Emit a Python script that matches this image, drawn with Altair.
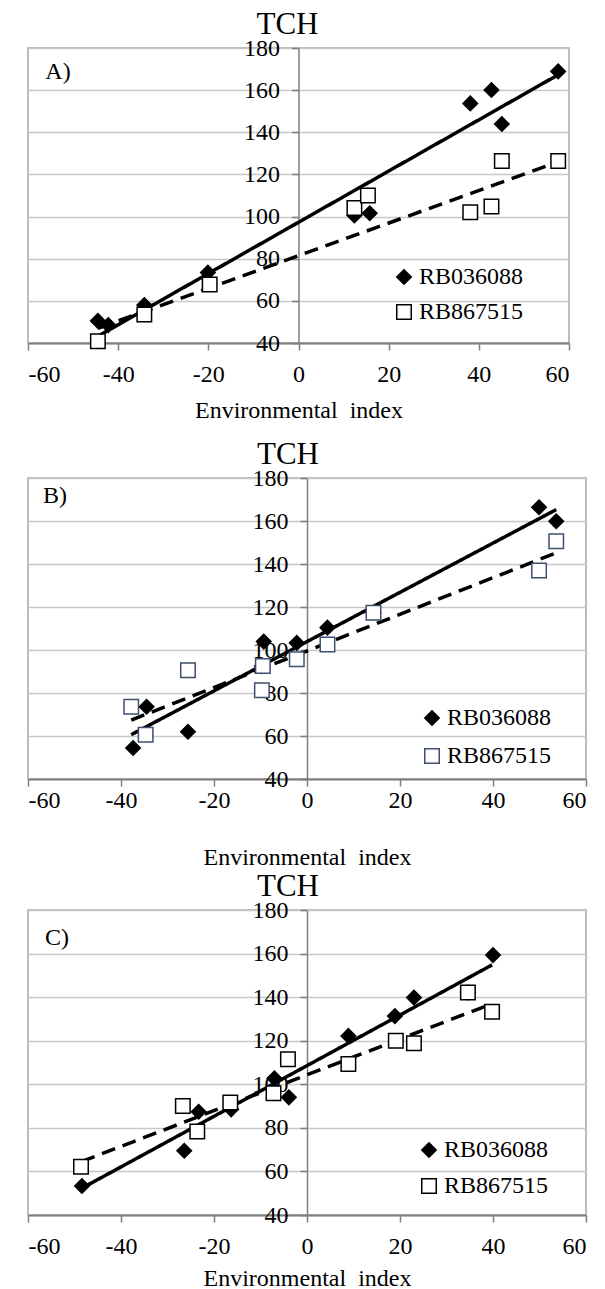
import altair as alt
import pandas as pd

SERIES = ["RB036088", "RB867515"]
X_TICKS = [-60, -40, -20, 0, 20, 40, 60]
Y_TICKS = [40, 60, 80, 100, 120, 140, 160, 180]
FONT = "Liberation Serif"

# ---------- Panel A ----------
a_x_036 = [-44.5, -42.2, -34.2, -20.1, 12.4, 15.8, 38.1, 42.8, 45.1, 57.6]
a_y_036 = [50.5, 48.5, 58.0, 73.4, 100.5, 101.6, 153.7, 160.1, 143.9, 168.9]
a_x_867 = [-44.5, -34.2, -19.7, 12.4, 15.4, 38.1, 42.8, 45.1, 57.6]
a_y_867 = [40.8, 53.5, 67.8, 104.1, 110.0, 102.0, 104.8, 126.4, 126.4]
a_fit_x = [-44.5, 57.6]
a_fit_036 = [43.2, 167.3]
a_fit_867 = [47.0, 126.0]

# ---------- Panel B ----------
b_x_036 = [-37.4, -34.5, -25.6, -9.7, -9.3, -2.2, 4.4, 14.3, 49.9, 53.6]
b_y_036 = [54.4, 73.6, 62.0, 92.5, 103.9, 103.3, 110.4, 117.3, 166.4, 159.9]
b_x_867 = [-37.8, -34.7, -25.6, -9.5, -9.7, -2.2, 4.4, 14.3, 49.9, 53.6]
b_y_867 = [73.6, 60.6, 90.6, 92.6, 81.3, 95.7, 102.6, 117.3, 137.0, 150.6]
b_fit_x = [-37.8, 53.6]
b_fit_036 = [60.6, 165.3]
b_fit_867 = [67.4, 145.2]

# ---------- Panel C ----------
c_x_036 = [-48.4, -26.4, -23.3, -16.3, -7.0, -3.9, 8.9, 18.9, 23.0, 34.6, 40.0]
c_y_036 = [53.3, 69.5, 87.4, 88.5, 102.7, 94.0, 122.2, 131.3, 139.8, 142.1, 159.3]
c_x_867 = [-48.6, -26.7, -23.6, -16.5, -7.2, -4.1, 8.9, 19.1, 23.0, 34.6, 39.8]
c_y_867 = [62.2, 90.0, 78.3, 91.6, 95.9, 111.5, 109.3, 120.0, 118.8, 142.1, 133.3]
c_fit_x = [-48.5, 39.8]
c_fit_036 = [52.2, 154.8]
c_fit_867 = [64.5, 137.0]


def points_df(x1, y1, x2, y2):
    return pd.DataFrame({
        "x": list(x1) + list(x2),
        "y": list(y1) + list(y2),
        "series": [SERIES[0]] * len(x1) + [SERIES[1]] * len(x2),
    })


def lines_df(fx, f1, f2):
    return pd.DataFrame({
        "x": list(fx) + list(fx),
        "y": list(f1) + list(f2),
        "series": [SERIES[0]] * 2 + [SERIES[1]] * 2,
    })


def panel(pts, lns, label, width, height, sq_color, title_offset, title_dx,
          lab_pad, title_pad, leg_x, leg_y, leg_row, lab_x, lab_y):
    xenc = alt.X("x:Q", scale=alt.Scale(domain=[-60, 60], nice=False),
                 axis=alt.Axis(values=X_TICKS, grid=False, title="Environmental\u00a0 index",
                               labelExpr="datum.value + ''",
                               labelFont=FONT, labelFontSize=24, labelColor="black",
                               titleFont=FONT, titleFontSize=24, titleFontWeight="normal",
                               titleColor="black", titlePadding=title_pad,
                               tickSize=7, tickColor="#7f7f7f", tickWidth=1.5,
                               domainColor="#7f7f7f", domainWidth=2,
                               labelPadding=lab_pad))
    yenc = alt.Y("y:Q", scale=alt.Scale(domain=[40, 180], nice=False),
                 axis=alt.Axis(values=Y_TICKS, grid=True, gridColor="#c8c8c8", gridWidth=1.3,
                               title=None, offset=-width / 2,
                               labelFont=FONT, labelFontSize=24, labelColor="black",
                               tickSize=7, tickColor="#7f7f7f", tickWidth=1.5,
                               domainColor="#7f7f7f", domainWidth=1.5,
                               labelPadding=12))
    leg = alt.Legend(title=None, orient="none", legendX=leg_x, legendY=leg_y,
                     labelFont=FONT, labelFontSize=24, labelColor="black",
                     symbolSize=210, symbolStrokeWidth=1.5, rowPadding=leg_row,
                     labelOffset=3, padding=0, symbolOpacity=1)
    lines = alt.Chart(lns).mark_line(strokeWidth=3.5, color="black").encode(
        x=xenc, y=yenc,
        strokeDash=alt.StrokeDash("series:N",
                                  scale=alt.Scale(domain=SERIES, range=[[1, 0], [14, 8]]),
                                  legend=None),
        detail="series:N",
    )
    pts_chart = alt.Chart(pts).mark_point(opacity=1, strokeWidth=1.5, size=210).encode(
        x=xenc, y=yenc,
        shape=alt.Shape("series:N", scale=alt.Scale(domain=SERIES, range=["diamond", "square"]),
                        legend=leg),
        fill=alt.Fill("series:N", scale=alt.Scale(domain=SERIES, range=["#000000", "#ffffff"]),
                      legend=leg),
        stroke=alt.Stroke("series:N", scale=alt.Scale(domain=SERIES, range=["#000000", sq_color]),
                          legend=leg),
        order=alt.Order("series:N"),
    )
    tag = alt.Chart(pd.DataFrame({"t": [label]})).mark_text(
        font=FONT, fontSize=24, color="black", align="center", baseline="middle"
    ).encode(x=alt.value(lab_x), y=alt.value(lab_y), text="t:N")
    return alt.layer(lines, pts_chart, tag).properties(
        width=width, height=height,
        title=alt.TitleParams("TCH", font=FONT, fontSize=31, fontWeight="normal",
                              color="black", anchor="middle", offset=title_offset, dx=title_dx),
    ).resolve_scale(shape="independent", fill="independent", stroke="independent")


pA = panel(points_df(a_x_036, a_y_036, a_x_867, a_y_867), lines_df(a_fit_x, a_fit_036, a_fit_867),
           "A)", 541, 295, "#000000", -5, -11, 12, 12, 364, 217, 11, 30, 24)
pB = panel(points_df(b_x_036, b_y_036, b_x_867, b_y_867), lines_df(b_fit_x, b_fit_036, b_fit_867),
           "B)", 558, 301, "#3f4f6f", -5, -19, 2, 33, 392, 228, 14, 27, 18)
pC = panel(points_df(c_x_036, c_y_036, c_x_867, c_y_867), lines_df(c_fit_x, c_fit_036, c_fit_867),
           "C)", 558, 305, "#000000", -5, -19, 12, 8, 389, 228, 12, 29, 28)

top = alt.vconcat(pA, pB, spacing=15).resolve_scale(
    shape="independent", fill="independent", stroke="independent"
).resolve_legend(
    shape="independent", fill="independent", stroke="independent"
)

chart = alt.vconcat(top, pC, spacing=0).resolve_scale(
    shape="independent", fill="independent", stroke="independent"
).resolve_legend(
    shape="independent", fill="independent", stroke="independent"
).properties(
    padding={"left": 18, "top": 0, "right": 0, "bottom": 0}
).configure(font=FONT).configure_axis(
    labelFont=FONT, titleFont=FONT
).configure_legend(labelFont=FONT).configure_title(font=FONT).configure_view(
    stroke="#a6a6a6", strokeWidth=1.5
)

chart.save("out.html", embed_options={"renderer": "svg", "actions": False})
